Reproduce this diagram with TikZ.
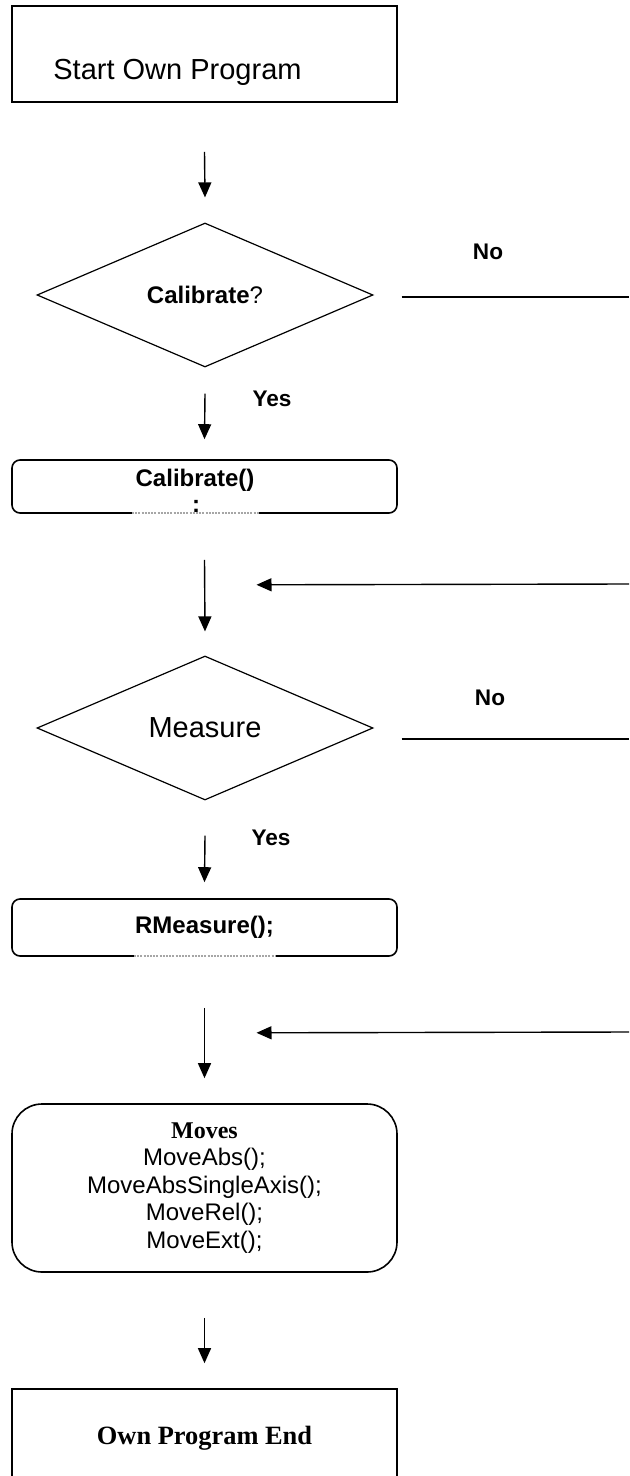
\documentclass[tikz,border=0pt]{standalone}
\usepackage{fontspec}
\setmainfont{Liberation Sans}
\newfontfamily\timesface{Liberation Serif}
\usetikzlibrary{arrows.meta,shapes.geometric,calc}

\begin{document}
\begin{tikzpicture}[x=0.5pt,y=-0.5pt,>={Triangle[length=7.5pt,width=6.5pt]},
    font=\fontsize{12}{13.7}\selectfont,
    flow/.style={->,line width=0.7pt},
    sqbox/.style={draw,line width=0.8pt,minimum width=192.5pt,inner sep=0pt,align=center},
    rbox/.style={sqbox,rounded corners=4pt},
    decide/.style={draw,diamond,line width=0.6pt,minimum width=168pt,minimum height=72pt,inner sep=0pt},
    lbl/.style={inner sep=0pt,font=\fontsize{11.3}{13}\selectfont\bfseries},
    bigtext/.style={font=\fontsize{14.5}{17}\selectfont},
    scrap/.style={gray!70,line width=1pt,dash pattern=on 1pt off 0.6pt}]
  \useasboundingbox (0,0) rectangle (629,1476);
  % start
  \node[sqbox,minimum height=48pt] (start) at (204.5,54) {};
  \node[bigtext,inner sep=0pt,anchor=west] (starttxt) at (53,72) {Start Own Program};
  % calibrate?
  \node[decide] (calq) at (205,295) {\textbf{Calibrate}?};
  \draw[flow] ($(start.south)+(0,49)$) -- ($(calq.north)+(0,-25)$);
  \coordinate (calno) at (629,297);
  \draw[line width=0.7pt] ($(calq.east)+(28,2)$) -- (calno);
  \node[lbl] (nocal) at (488,252) {No};
  \node[lbl] (yescal) at (272,399) {Yes};
  % calibrate()
  \node[rbox,minimum height=26.5pt] (calbox) at (204.5,486.5) {};
  \node[inner sep=0pt,font=\fontsize{12}{13.7}\selectfont\bfseries] (caltxt) at (195,480) {Calibrate()};
  \node[inner sep=0pt,font=\fontsize{12}{13.7}\selectfont\bfseries] (calsemi) at (196,506) {:};
  \draw[white,line width=1.2pt] (132,513) -- (259,513);
  \draw[scrap] (132,513) -- (259,513);
  \draw[flow] ($(calq.south)+(0,26)$) -- ($(calbox.north)+(0,-20)$);
  % measure?
  \node[decide] (measq) at (205,728) {\fontsize{14.5}{17}\selectfont Measure};
  \draw[flow] ($(calbox.south)+(0,46)$) -- ($(measq.north)+(0,-24)$);
  \coordinate (calret) at (629,584);
  \draw[flow] (calret) -- ($(calbox.south)+(52,71)$);
  \coordinate (measno) at (629,739);
  \draw[line width=0.7pt] ($(measq.east)+(28,11)$) -- (measno);
  \node[lbl] (nomeas) at (490,698) {No};
  \node[lbl] (yesmeas) at (271,838) {Yes};
  % rmeasure()
  \node[rbox,minimum height=28.5pt,font=\fontsize{12}{13.7}\selectfont\bfseries] (rmbox) at (204.5,927.5) {RMeasure();};
  \draw[white,line width=1.2pt] (134,956) -- (275,956);
  \draw[scrap] (134,956) -- (275,956);
  \draw[flow] ($(measq.south)+(0,35)$) -- ($(rmbox.north)+(0,-16)$);
  % moves
  \node[sqbox,rounded corners=15pt,minimum height=84pt] (movebox) at (204.5,1188)
    {{\timesface\bfseries Moves}\\MoveAbs();\\MoveAbsSingleAxis();\\MoveRel();\\MoveExt();};
  \draw[flow] ($(rmbox.south)+(0,51)$) -- ($(movebox.north)+(0,-25)$);
  \coordinate (measret) at (629,1032);
  \draw[flow] (measret) -- ($(rmbox.south)+(52,76)$);
  % end
  \node[sqbox,minimum height=49pt,font=\fontsize{13.2}{15}\timesface\bfseries] (endbox) at (204.5,1438) {Own Program End};
  \draw[flow] ($(movebox.south)+(0,45)$) -- ($(endbox.north)+(0,-25)$);
\end{tikzpicture}
\end{document}
